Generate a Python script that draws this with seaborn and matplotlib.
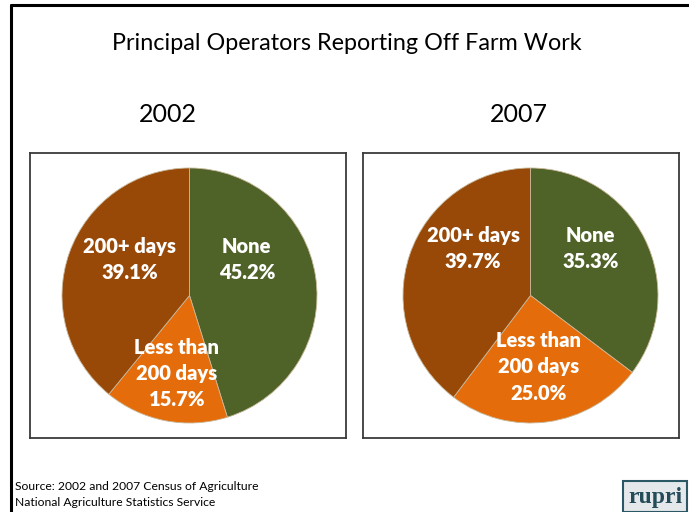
import matplotlib
matplotlib.use("Agg")
import matplotlib.pyplot as plt
import seaborn as sns
from matplotlib.patches import Rectangle
from matplotlib.lines import Line2D

sns.set_theme(style="white")
plt.rcParams['font.family'] = ['Lato', 'DejaVu Sans']

# ---- data ----
title = "Principal Operators Reporting Off Farm Work"
years = ["2002", "2007"]
categories = ["None", "Less than\n200 days", "200+ days"]
values_2002 = [45.2, 15.7, 39.1]
values_2007 = [35.3, 25.0, 39.7]
colors = ["#4F6228", "#E46C0A", "#984807"]
source_lines = ["Source: 2002 and 2007 Census of Agriculture",
                "National Agriculture Statistics Service"]

# ---- layout (label offsets in pie-radius units) ----
label_offsets = {
    "2002": [(0.45, 0.28), (-0.10, -0.61), (-0.47, 0.28)],
    "2007": [(0.47, 0.37), (0.06, -0.56), (-0.45, 0.37)],
}
year_x = {"2002": 168, "2007": 518.5}

W, H = 689, 512
fig = plt.figure(figsize=(W / 100, H / 100), dpi=100)
fig.patch.set_facecolor("white")

# slide border
fig.add_artist(Line2D([11 / W, 11 / W], [0, 1 - 5 / H], transform=fig.transFigure,
                      color="black", lw=2.2))
fig.add_artist(Line2D([11 / W, 1], [1 - 5 / H, 1 - 5 / H], transform=fig.transFigure,
                      color="black", lw=2.2))

fig.text(347 / W, 1 - 44 / H, title, ha="center", va="center", fontsize=16.8,
         color="black")

palette = sns.color_palette(colors)
data = {"2002": values_2002, "2007": values_2007}
boxes = {"2002": (30, 153, 346, 438, 189.5), "2007": (363, 153, 679, 438, 530.5)}
R = 127.5
cy = 295.5

for yr in years:
    x0, y0, x1, y1, cx = boxes[yr]
    ax = fig.add_axes([x0 / W, 1 - y1 / H, (x1 - x0) / W, (y1 - y0) / H])
    ax.pie(data[yr], colors=palette, startangle=90, counterclock=False,
           wedgeprops=dict(linewidth=0.6, edgecolor="#c8b89a"))
    ax.set_xlim(-(cx - x0) / R, (x1 - cx) / R)
    ax.set_ylim(-(y1 - cy) / R, (cy - y0) / R)
    ax.set_frame_on(True)
    for s in ax.spines.values():
        s.set_visible(True)
        s.set_color("#3a3a3a")
        s.set_linewidth(1.3)
    ax.set_xticks([])
    ax.set_yticks([])
    for cat, val, (dx, dy) in zip(categories, data[yr], label_offsets[yr]):
        ax.text(dx, dy, f"{cat}\n{val:.1f}%", ha="center", va="center",
                fontsize=14.5, fontweight="heavy", color="white", linespacing=1.45)
    fig.text(year_x[yr] / W, 1 - 115 / H, yr, ha="center", va="center",
             fontsize=18, color="black")

fig.text(15 / W, 1 - 487 / H, source_lines[0], ha="left", va="center",
         fontsize=8.7, color="black")
fig.text(15 / W, 1 - 502 / H, source_lines[1], ha="left", va="center",
         fontsize=8.7, color="black")

# logo
fig.add_artist(Rectangle((623 / W, 0), 64 / W, (512 - 481) / H,
                         transform=fig.transFigure, facecolor="#e4e8ea",
                         edgecolor="#2c5866", lw=1.5))
fig.text(655 / W, 1 - 497 / H, "rupri", ha="center", va="center",
         fontsize=17, fontweight="bold", family="Liberation Serif", color="#234b58")

fig.savefig("out.png", dpi=100)
